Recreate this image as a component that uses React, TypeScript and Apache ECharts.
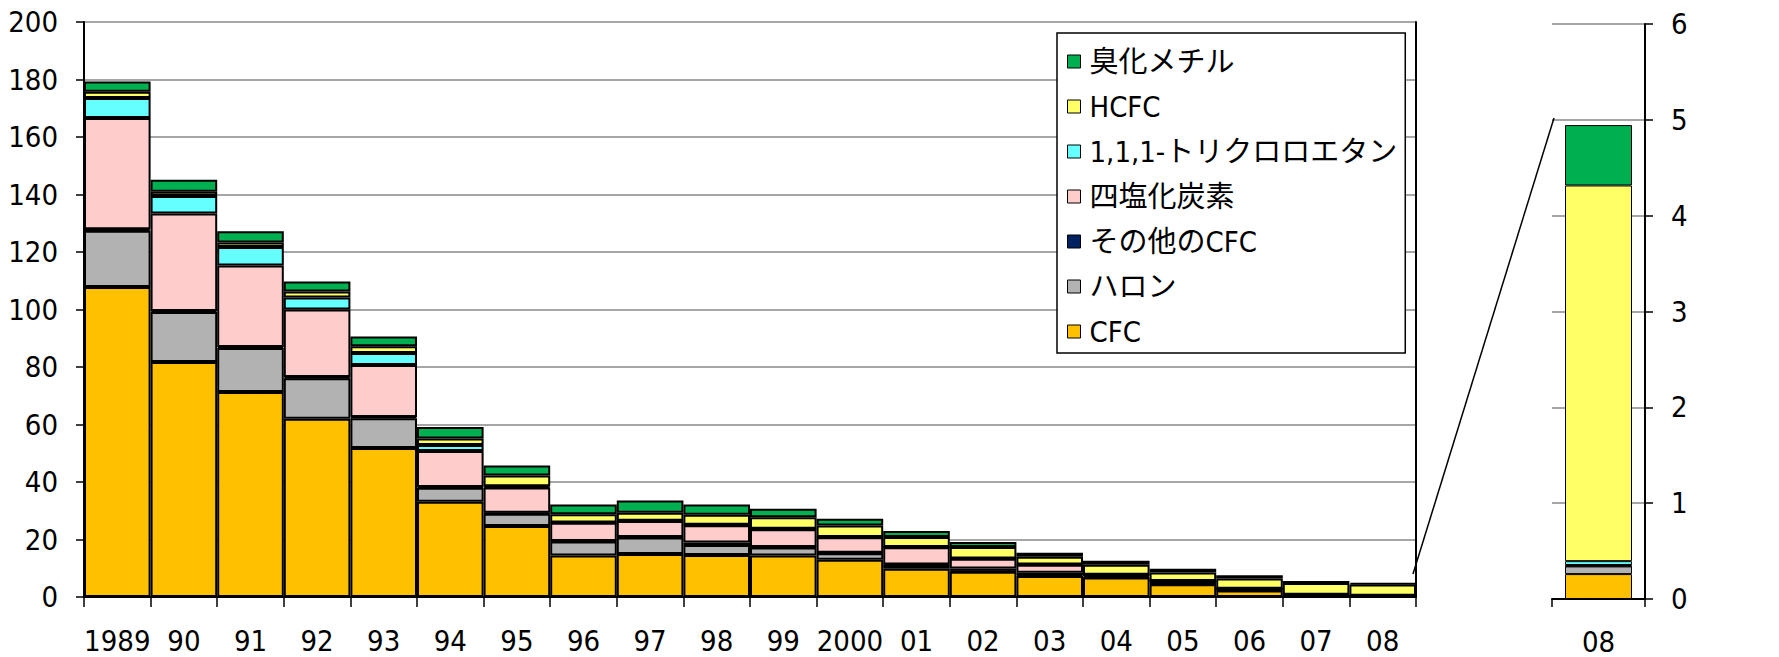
import React, { useEffect, useRef } from "react";
import * as echarts from "echarts";

const years = ["1989", "90", "91", "92", "93", "94", "95", "96", "97", "98", "99", "2000", "01", "02", "03", "04", "05", "06", "07", "08"];
const cfc = [107.8, 81.7, 71.3, 62.0, 51.8, 33.1, 24.7, 14.4, 15.0, 14.6, 14.4, 13.0, 9.8, 8.8, 7.3, 6.8, 4.4, 2.3, 0.3, 0.26];
const halon = [19.6, 17.4, 15.3, 14.1, 10.4, 4.9, 4.3, 4.9, 5.7, 3.5, 2.8, 2.2, 1.3, 0.3, 0.3, 0.2, 0.2, 0.1, 0.1, 0.08];
const otherCfc = [0.5, 0.4, 0.4, 0.4, 0.4, 0.3, 0.3, 0.2, 0.2, 0.9, 0.2, 0.2, 0.2, 0.8, 0.8, 0.6, 0.8, 0.4, 0.05, 0.005];
const ccl4 = [38.7, 33.9, 28.3, 23.5, 18.1, 12.5, 8.8, 6.3, 5.5, 6.0, 6.2, 5.4, 6.0, 3.4, 2.8, 0.1, 0.2, 0.1, 0.3, 0.01];
const tca = [7.0, 6.1, 6.4, 4.2, 4.2, 2.1, 0.4, 0.1, 0.1, 0.1, 0.1, 0.1, 0.1, 0.1, 0.1, 0.0, 0.0, 0.0, 0.05, 0.04];
const hcfc = [2.1, 1.5, 1.6, 2.1, 2.3, 2.2, 3.8, 2.9, 2.8, 3.5, 4.0, 4.0, 3.5, 4.0, 2.7, 3.5, 2.9, 3.5, 4.1, 3.92];
const mebr = [3.6, 4.1, 3.9, 3.4, 3.4, 4.0, 3.4, 3.4, 4.3, 3.6, 3.0, 2.3, 2.1, 1.7, 1.4, 1.4, 1.3, 1.2, 0.7, 0.63];

const seriesNames = ["CFC", "ハロン", "その他のCFC", "四塩化炭素", "1,1,1-トリクロロエタン", "HCFC", "臭化メチル"];
const seriesColors = ["#FFC000", "#B2B2B2", "#002060", "#FFCCCC", "#66FFFF", "#FFFF66", "#00B050"];
const seriesValues = [cfc, halon, otherCfc, ccl4, tca, hcfc, mebr];
const legendOrder = ["臭化メチル", "HCFC", "1,1,1-トリクロロエタン", "四塩化炭素", "その他のCFC", "ハロン", "CFC"];

const mainTicks = [0, 200, 20];
const insetTicks = [0, 6, 1];
const insetLabel = ["08"];

const NARROW = "'Liberation Sans Narrow', 'Arial Narrow', 'DejaVu Sans Condensed', 'Noto Sans CJK JP', sans-serif";

export default function App() {
  const ref = useRef<HTMLDivElement>(null);
  useEffect(() => {
    document.body.style.margin = "0";
    if (!ref.current) return;
    const chart = echarts.init(ref.current, null, { renderer: "svg" });
    const mainSeries = seriesNames.map((n, i) => ({
      name: n,
      type: "bar",
      stack: "main",
      xAxisIndex: 0,
      yAxisIndex: 0,
      barCategoryGap: "0%",
      data: seriesValues[i],
      itemStyle: { color: seriesColors[i], borderColor: "#000", borderWidth: 2 },
    }));
    const insetSeries = seriesNames.map((n, i) => ({
      name: n,
      type: "bar",
      stack: "inset",
      xAxisIndex: 2,
      yAxisIndex: 2,
      barWidth: 67,
      data: [seriesValues[i][seriesValues[i].length - 1]],
      itemStyle: { color: seriesColors[i], borderColor: "#000", borderWidth: 1 },
    }));
    chart.setOption({
      animation: false,
      backgroundColor: "#fff",
      grid: [
        { left: 84, right: 363, top: 22, bottom: 60 },
        { left: 1552, right: 134, top: 24, bottom: 58 },
      ],
      legend: {
        data: legendOrder,
        orient: "vertical",
        left: 1057,
        top: 33,
        padding: [13, 8, 6, 10],
        itemGap: 14,
        itemWidth: 13,
        itemHeight: 13,
        backgroundColor: "#fff",
        borderColor: "#000",
        borderWidth: 1.5,
        borderRadius: 0,
        icon: "rect",
        itemStyle: { borderWidth: 1, borderColor: "#000" },
        textStyle: { fontFamily: NARROW, fontSize: 29, lineHeight: 31, color: "#000", padding: [0, 0, 0, 4] },
      },
      xAxis: [
        {
          type: "category",
          gridIndex: 0,
          data: years,
          axisLine: { lineStyle: { color: "#000", width: 2 } },
          axisTick: { show: true, length: 10, lineStyle: { color: "#000", width: 1.5 } },
          axisLabel: { interval: 0, fontFamily: NARROW, fontSize: 29, color: "#000", margin: 29 },
        },
        {
          type: "category",
          gridIndex: 0,
          position: "top",
          data: years,
          axisLine: { show: true, lineStyle: { color: "#000", width: 2 } },
          axisTick: { show: false },
          axisLabel: { show: false },
        },
        {
          type: "category",
          gridIndex: 1,
          data: insetLabel,
          axisLine: { lineStyle: { color: "#000", width: 2 } },
          axisTick: { show: true, length: 8, lineStyle: { color: "#000", width: 1.5 } },
          axisLabel: { fontFamily: NARROW, fontSize: 29, color: "#000", margin: 28 },
        },
      ],
      yAxis: [
        {
          type: "value",
          gridIndex: 0,
          min: mainTicks[0],
          max: mainTicks[1],
          interval: mainTicks[2],
          axisLine: { show: true, lineStyle: { color: "#000", width: 2 } },
          axisTick: { show: true, length: 8, lineStyle: { color: "#000", width: 1.5 } },
          splitLine: { lineStyle: { color: "#888", width: 1.5 } },
          axisLabel: { fontFamily: NARROW, fontSize: 29, color: "#000", margin: 26 },
        },
        {
          type: "value",
          gridIndex: 0,
          position: "right",
          min: mainTicks[0],
          max: mainTicks[1],
          interval: mainTicks[2],
          axisLine: { show: true, lineStyle: { color: "#000", width: 2 } },
          axisTick: { show: false },
          splitLine: { show: false },
          axisLabel: { show: false },
        },
        {
          type: "value",
          gridIndex: 1,
          position: "right",
          min: insetTicks[0],
          max: insetTicks[1],
          interval: insetTicks[2],
          axisLine: { show: true, lineStyle: { color: "#000", width: 2 } },
          axisTick: { show: true, length: 8, lineStyle: { color: "#000", width: 1.5 } },
          splitLine: { lineStyle: { color: "#888", width: 1.5 } },
          axisLabel: { fontFamily: NARROW, fontSize: 29, color: "#000", margin: 26 },
        },
      ],
      graphic: [
        {
          type: "line",
          shape: { x1: 1413, y1: 574, x2: 1554, y2: 118 },
          style: { stroke: "#000", lineWidth: 1.5 },
          z: 100,
        },
      ],
      series: [...mainSeries, ...insetSeries],
    });
    return () => chart.dispose();
  }, []);
  return <div ref={ref} style={{ width: 1779, height: 657 }} />;
}
